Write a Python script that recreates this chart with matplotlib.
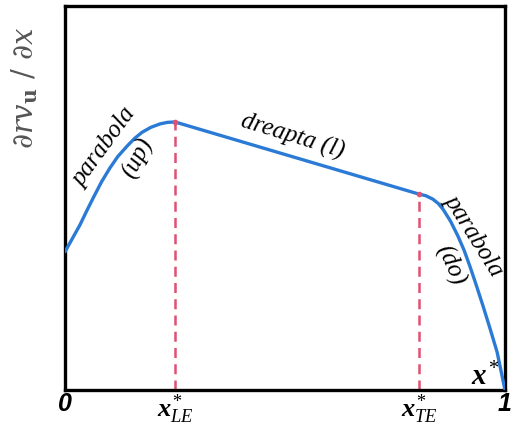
import matplotlib
matplotlib.use("Agg")
import matplotlib.pyplot as plt

plt.rcParams['mathtext.fontset'] = 'custom'
plt.rcParams['mathtext.it'] = 'Liberation Serif:italic:bold'
plt.rcParams['mathtext.rm'] = 'Liberation Serif:italic'
plt.rcParams['mathtext.bf'] = 'Liberation Serif:italic:bold'

# curve points (normalised x, normalised derivative)
curve_x = [0.0, 0.017, 0.034, 0.05, 0.064, 0.083, 0.102, 0.12, 0.141, 0.158, 0.175, 0.195, 0.216, 0.233, 0.25,
           0.805, 0.82, 0.836, 0.848, 0.859, 0.876, 0.893, 0.907, 0.92, 0.935, 0.95, 0.966, 0.982, 1.0]
curve_y = [0.36, 0.395, 0.43, 0.468, 0.5, 0.542, 0.578, 0.608, 0.635, 0.655, 0.671, 0.684, 0.693, 0.697, 0.698,
           0.510, 0.506, 0.497, 0.486, 0.471, 0.44, 0.401, 0.364, 0.323, 0.272, 0.219, 0.16, 0.099, 0.0]

x_le = 0.25
x_te = 0.805
y_le = 0.698
y_te = 0.510

tick_pos = [0.0, x_le, x_te, 1.0]
tick_labels = ['0', r'$x^{*}_{\mathrm{LE}}$', r'$x^{*}_{\mathrm{TE}}$', '1']

fig = plt.figure(figsize=(5.14, 4.27), dpi=100)
ax = fig.add_axes([65/514, 36/427, 440/514, 384/427])

blue = '#2b7bd6'
red = '#e05070'

ax.plot(curve_x, curve_y, color=blue, lw=2.4, solid_capstyle='round', solid_joinstyle='round', zorder=3)
ax.plot([x_le, x_le], [0, y_le], color=red, lw=1.8, ls=(0, (4, 2.5)), zorder=2)
ax.plot([x_te, x_te], [0, y_te], color=red, lw=1.8, ls=(0, (4, 2.5)), zorder=2)
ax.plot([x_le, x_te], [y_le, y_te], 'o', color=red, ms=3, zorder=4)

ax.set_xlim(0, 1)
ax.set_ylim(0, 1)
for s in ax.spines.values():
    s.set_linewidth(2.4)
    s.set_color('black')
ax.set_yticks([])
ax.set_xticks(tick_pos)
ax.tick_params(axis='x', length=0, pad=1)
labels = ax.set_xticklabels(tick_labels)
for lab in labels:
    lab.set_fontsize(19)
for i in (0, 3):
    labels[i].set_fontfamily('Liberation Sans')
    labels[i].set_fontweight('bold')
    labels[i].set_fontstyle('italic')
    labels[i].set_fontsize(18)

fig.text(25/514, 1 - 88/427, r'$\partial rv_{\mathbf{u}}\ /\ \partial x$', rotation=90,
         ha='center', va='center', fontsize=21, color='#555555',
         math_fontfamily='dejavuserif')

tkw = dict(family='Liberation Serif', style='italic', fontsize=18, ha='center', va='center')
ax.text(0.089, 0.635, 'parabola', rotation=54, **tkw)
ax.text(0.166, 0.607, '(up)', rotation=62, **tkw)
ax.text(0.518, 0.662, 'dreapta (l)', rotation=-17, **tkw)
ax.text(0.93, 0.405, 'parabola', rotation=-58, **tkw)
ax.text(0.875, 0.326, '(do)', rotation=-66, **tkw)
ax.text(0.955, 0.036, r'$x^{*}$', fontsize=21, ha='center', va='center')

fig.savefig('out.png', dpi=100)
